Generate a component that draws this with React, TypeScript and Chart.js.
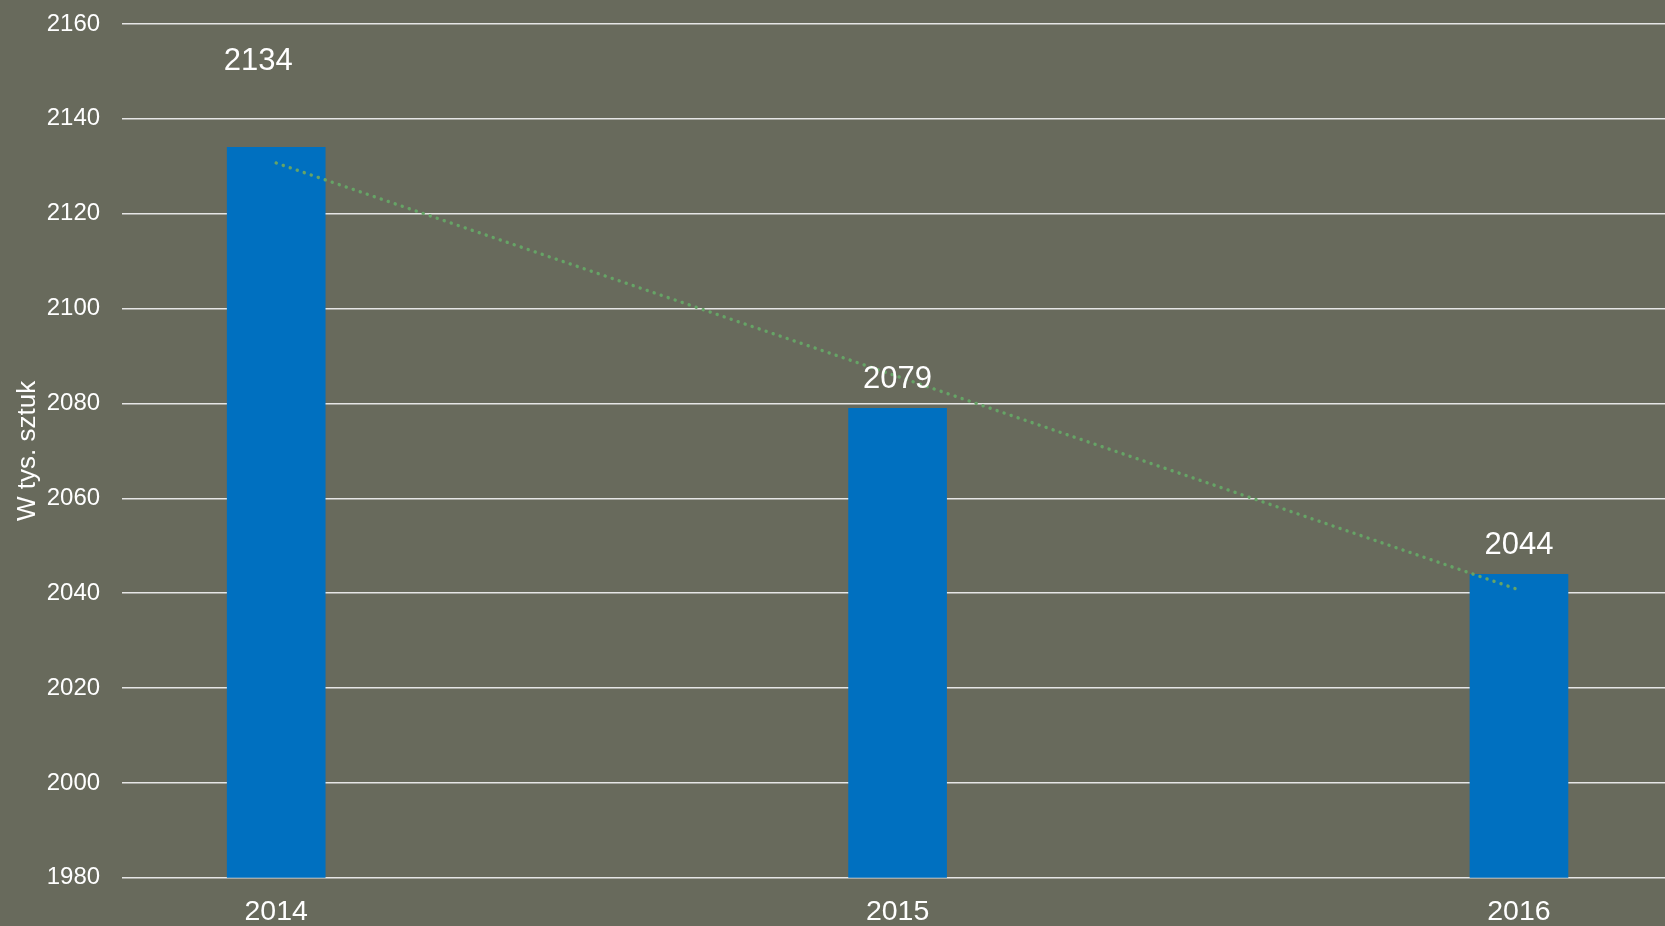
import React, { useEffect, useRef } from "react";
import { Chart, registerables } from "chart.js";

Chart.register(...registerables);

const categories = ["2014", "2015", "2016"];
const values = [2134, 2079, 2044];
const trendValues = [2130.7, 2040.7];
const yTicks = { min: 1980, max: 2160, step: 20 };
const yTitle = "W tys. sztuk";

const FONT = "'Liberation Sans', Arial, sans-serif";

const valueLabelPlugin = {
  id: "valueLabels",
  afterDatasetsDraw(chart: any, _args: any, opts: any) {
    const ctx = chart.ctx;
    const idx = chart.data.datasets.findIndex((d: any) => d.type === "bar");
    const meta = chart.getDatasetMeta(idx);
    ctx.save();
    ctx.font = `31px ${FONT}`;
    ctx.fillStyle = "#ffffff";
    ctx.textAlign = "center";
    ctx.textBaseline = "alphabetic";
    meta.data.forEach((el: any, i: number) => {
      const n = (opts.nudges && opts.nudges[i]) || { dx: 0, dy: 0 };
      ctx.fillText(String(values[i]), el.x + n.dx, el.y - 20 + n.dy);
    });
    ctx.restore();
  },
};

export default function App() {
  const ref = useRef<HTMLCanvasElement>(null);
  useEffect(() => {
    document.body.style.margin = "0";
    document.documentElement.style.overflow = "hidden";
    const chart = new Chart(ref.current!, {
      type: "bar",
      data: {
        datasets: [
          {
            type: "line",
            data: trendValues.map((v, i) => ({ x: i * (categories.length - 1), y: v })),
            borderColor: "#66a466",
            borderWidth: 3.4,
            borderDash: [0.1, 7.3],
            borderCapStyle: "round",
            pointRadius: 0,
            fill: false,
            order: 0,
          } as any,
          {
            type: "bar",
            data: values.map((v, i) => ({ x: i, y: v })),
            backgroundColor: "#0070c0",
            barThickness: 98,
            order: 1,
          } as any,
        ],
      },
      options: {
        animation: false,
        responsive: false,
        maintainAspectRatio: false,
        layout: { padding: { top: 24, left: 0, right: 0, bottom: 0 } },
        plugins: {
          legend: { display: false },
          tooltip: { enabled: false },
          valueLabels: { nudges: [{ dx: -18, dy: -57 }, { dx: 0, dy: 0 }, { dx: 0, dy: 0 }] },
        } as any,
        scales: {
          x: {
            type: "linear",
            offset: false,
            min: -0.248,
            max: 2.235,
            afterBuildTicks: (axis: any) => {
              axis.ticks = categories.map((_c, i) => ({ value: i }));
            },
            ticks: {
              callback: (v: any) => categories[Math.round(Number(v))] ?? "",
              color: "#ffffff",
              font: { family: FONT, size: 28.5 },
              padding: 17,
              maxRotation: 0,
              autoSkip: false,
            },
            grid: { display: false, drawTicks: false },
            border: { display: false },
          },
          y: {
            min: yTicks.min,
            max: yTicks.max,
            afterFit: (axis: any) => {
              axis.paddingTop = 0;
              axis.paddingBottom = 0;
            },
            ticks: {
              stepSize: yTicks.step,
              callback: (v: any) => String(v),
              color: "#ffffff",
              font: { family: FONT, size: 24 },
              padding: 22,
            },
            grid: { color: "#e6e6e6", lineWidth: 1.6, drawTicks: false },
            border: { display: false },
            title: {
              display: true,
              text: yTitle,
              color: "#ffffff",
              font: { family: FONT, size: 26 },
              padding: { top: 12.5, bottom: -19 },
            },
          },
        },
      },
      plugins: [valueLabelPlugin],
    });
    return () => chart.destroy();
  }, []);
  return (
    <div style={{ width: 1665, height: 926, overflow: "hidden", background: "#686a5c" }}>
      <canvas ref={ref} width={1665} height={946} style={{ display: "block" }} />
    </div>
  );
}
